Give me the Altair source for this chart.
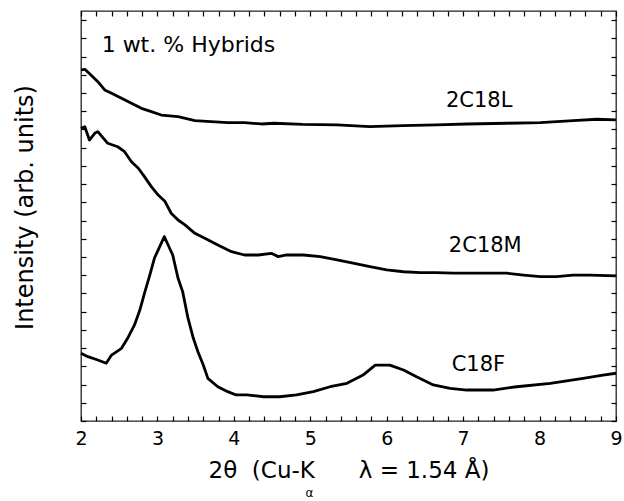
import altair as alt
import pandas as pd

# ---- data ----
x_2C18L = [2.00, 2.05, 2.13, 2.22, 2.31, 2.40, 2.53, 2.66, 2.79, 2.92, 3.05, 3.27, 3.49, 3.70, 3.92,
           4.14, 4.36, 4.53, 4.90, 5.35, 5.78, 6.21, 6.65, 7.05, 7.57, 8.01, 8.44, 8.75, 9.00]
y_2C18L = [19.27, 19.30, 18.99, 18.62, 18.17, 17.99, 17.71, 17.44, 17.16, 16.98, 16.79, 16.70, 16.48,
           16.43, 16.37, 16.37, 16.30, 16.34, 16.28, 16.25, 16.15, 16.21, 16.25, 16.30, 16.34, 16.37,
           16.48, 16.56, 16.52]

x_2C18M = [2.00, 2.05, 2.11, 2.18, 2.22, 2.35, 2.48, 2.57, 2.66, 2.75, 2.83, 2.92, 3.01, 3.10, 3.18,
           3.27, 3.36, 3.49, 3.62, 3.79, 3.97, 4.14, 4.32, 4.49, 4.58, 4.69, 4.91, 5.13, 5.35, 5.56,
           5.78, 6.00, 6.22, 6.44, 6.65, 6.87, 7.13, 7.35, 7.57, 7.79, 8.01, 8.22, 8.44, 8.66, 9.00]
y_2C18M = [16.06, 16.15, 15.42, 15.79, 15.88, 15.24, 15.05, 14.78, 14.23, 13.87, 13.41, 12.86, 12.40,
           12.04, 11.40, 11.03, 10.76, 10.30, 10.03, 9.66, 9.29, 9.11, 9.11, 9.20, 9.02, 9.11, 9.11,
           9.02, 8.84, 8.66, 8.47, 8.29, 8.19, 8.14, 8.14, 8.11, 8.11, 8.11, 8.11, 8.01, 7.92, 7.92,
           8.01, 8.01, 7.96]

x_C18F = [2.00, 2.09, 2.22, 2.33, 2.40, 2.53, 2.61, 2.70, 2.77, 2.83, 2.90, 2.96, 3.03, 3.09, 3.14,
          3.20, 3.27, 3.33, 3.40, 3.47, 3.53, 3.60, 3.66, 3.79, 3.92, 4.03, 4.17, 4.39, 4.60, 4.82,
          5.04, 5.26, 5.48, 5.69, 5.85, 6.04, 6.22, 6.39, 6.61, 6.83, 7.05, 7.39, 7.70, 8.14, 8.57,
          8.83, 9.00]
y_C18F = [3.72, 3.53, 3.35, 3.17, 3.62, 3.99, 4.54, 5.27, 6.09, 7.01, 8.01, 8.93, 9.57, 10.12, 9.66,
          9.11, 7.83, 7.10, 5.64, 4.54, 3.80, 3.07, 2.34, 1.88, 1.61, 1.43, 1.43, 1.33, 1.33, 1.43,
          1.61, 1.88, 2.07, 2.52, 3.07, 3.07, 2.80, 2.43, 1.98, 1.79, 1.70, 1.70, 1.88, 2.07, 2.34,
          2.52, 2.62]

series_names = ["2C18L", "2C18M", "C18F"]
label_x = [7.21, 7.29, 7.20]
label_y = [17.54, 9.60, 3.07]

note_text = ["1 wt. % Hybrids"]
note_x = [2.27]
note_y = [20.61]

x_ticks = [round(2 + 0.2 * i, 1) for i in range(36)]
y_ticks = list(range(0, 23))

FONT = "DejaVu Sans"
NB = "\u00a0"
x_title = "2θ" + NB * 2 + "(Cu-K" + NB * 6 + "λ = 1.54 Å)"

# ---- tables ----
rows = []
for name, xs, ys in [("2C18L", x_2C18L, y_2C18L), ("2C18M", x_2C18M, y_2C18M), ("C18F", x_C18F, y_C18F)]:
    for i, (a, b) in enumerate(zip(xs, ys)):
        rows.append({"x": a, "y": b, "series": name, "i": i})
df = pd.DataFrame(rows)
df_labels = pd.DataFrame({"x": label_x, "y": label_y, "label": series_names})
df_note = pd.DataFrame({"x": note_x, "y": note_y, "label": note_text})
df_alpha = pd.DataFrame({"x": [4.99], "y": [-3.97], "label": ["α"]})

xscale = alt.Scale(domain=[2, 9], nice=False, zero=False)
yscale = alt.Scale(domain=[0, 22.5], nice=False, zero=False)

bottom_axis = alt.Axis(
    values=x_ticks, labelExpr="abs(datum.value - round(datum.value)) < 0.01 ? format(datum.value, 'd') : ''",
    tickSize=5, offset=-5, domain=False, grid=False, labelPadding=8, labelFlush=False, labelOverlap=False,
    labelFont=FONT, labelFontSize=19, labelColor="black", tickColor="black", tickWidth=1.2,
    title=x_title, titleFont=FONT, titleFontSize=23, titleFontWeight="normal", titleColor="black",
    titleBaseline="alphabetic", titleY=61,
)
top_axis = alt.Axis(
    orient="top", values=x_ticks, labels=False, tickSize=5, offset=-5, domain=False, grid=False,
    tickColor="black", tickWidth=1.2, title=None,
)
left_axis = alt.Axis(
    values=y_ticks, labels=False, tickSize=5, offset=-5, domain=False, grid=False,
    tickColor="black", tickWidth=1.2,
    title="Intensity (arb. units)", titleFont=FONT, titleFontSize=24, titleFontWeight="normal",
    titleColor="black", titleBaseline="alphabetic", titleX=-54, titleY=196, titleAngle=270,
)
right_axis = alt.Axis(
    orient="right", values=y_ticks, labels=False, tickSize=5, offset=-5, domain=False, grid=False,
    tickColor="black", tickWidth=1.2, title=None,
)

lines = alt.Chart(df).mark_line(color="black", strokeWidth=2.8, strokeJoin="round").encode(
    x=alt.X("x:Q", scale=xscale, axis=bottom_axis),
    y=alt.Y("y:Q", scale=yscale, axis=left_axis),
    detail="series:N",
    order="i:Q",
)

labels = alt.Chart(df_labels).mark_text(font=FONT, fontSize=21, color="black", align="center",
                                         baseline="middle").encode(
    x=alt.X("x:Q", scale=xscale, axis=top_axis),
    y=alt.Y("y:Q", scale=yscale, axis=right_axis),
    text="label:N",
)

note = alt.Chart(df_note).mark_text(font=FONT, fontSize=22, color="black", align="left",
                                     baseline="middle").encode(
    x=alt.X("x:Q", scale=xscale, axis=None),
    y=alt.Y("y:Q", scale=yscale, axis=None),
    text="label:N",
)

alpha = alt.Chart(df_alpha).mark_text(font=FONT, fontSize=12, color="black", align="center",
                                       baseline="middle").encode(
    x=alt.X("x:Q", scale=xscale, axis=None),
    y=alt.Y("y:Q", scale=yscale, axis=None),
    text="label:N",
)

chart = alt.layer(lines, labels, note, alpha).resolve_axis(
    x="independent", y="independent"
).properties(
    width=535, height=410,
    padding={"left": 81, "top": 11, "right": 8, "bottom": 80},
    autosize=alt.AutoSizeParams(type="none"),
    background="white",
).configure_view(stroke="#222", strokeWidth=1.3)

chart.save("out.html", embed_options={"renderer": "svg", "actions": False})
